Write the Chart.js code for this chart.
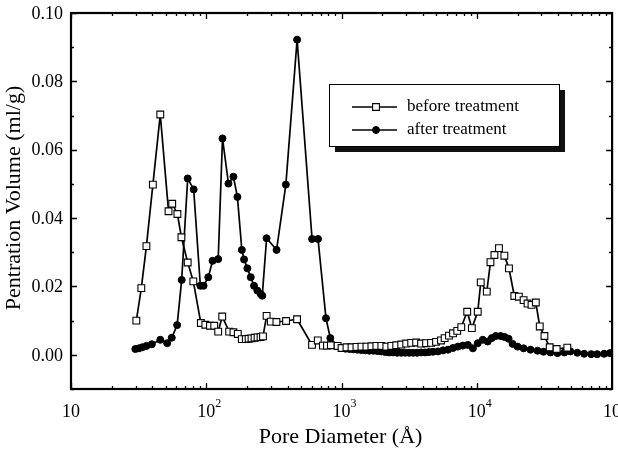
<!DOCTYPE html>
<html>
<head>
<meta charset="utf-8">
<script src="https://cdn.jsdelivr.net/npm/chart.js@4.4.0/dist/chart.umd.min.js"></script>
<style>
  html, body { margin: 0; padding: 0; background: #fff; }
  canvas { display: block; }
</style>
</head>
<body>
<canvas id="chart" width="618" height="451"></canvas>
<script>
// pore diameter (Å) and penetration volume (ml/g), before treatment
const beforeDiameter = [
  30.4, 33.1, 36.1, 40.3, 45.7, 52.6, 56.0, 61.2, 65.5, 72.9, 80.2, 91.2, 98.4, 106.5, 114.5,
  122.5, 131.2, 147.6, 158.8, 171.0, 183.2, 196, 205.5, 216, 227.5, 239.5, 252, 262.5,
  279.3, 300, 330, 389, 469, 605, 667, 728, 780, 834, 935,
  1000, 1088, 1185, 1289, 1403, 1527, 1662, 1809, 1968, 2143, 2332, 2537, 2761, 3006,
  3271, 3559, 3873, 4215, 4588, 4994, 5433,
  5781, 6223, 6668, 7166, 7673, 8490, 9190, 10160, 10690, 11850, 12610, 13490, 14580,
  15980, 17280, 18930, 20460, 22170, 23720, 25370, 27300, 29190, 31620, 34590, 38920, 46660
];
const beforeVolume = [
  0.0100, 0.0195, 0.0318, 0.0498, 0.0703, 0.0420, 0.0442, 0.0412, 0.0344, 0.0270, 0.0215, 0.0093, 0.0088, 0.0085, 0.0085,
  0.0068, 0.0112, 0.0068, 0.0066, 0.0061, 0.0046, 0.0046, 0.0047, 0.0048, 0.0050, 0.0051, 0.0052, 0.0054,
  0.0114, 0.0097, 0.0096, 0.0099, 0.0104, 0.0029, 0.0042, 0.0027, 0.0027, 0.0028, 0.0026,
  0.0020, 0.0022, 0.0022, 0.0023, 0.0024, 0.0024, 0.0025, 0.0026, 0.0026, 0.0024, 0.0026, 0.0028, 0.0030, 0.0033,
  0.0035, 0.0036, 0.0033, 0.0034, 0.0035, 0.0038, 0.0042,
  0.0049, 0.0056, 0.0063, 0.0070, 0.0081, 0.0126, 0.0078, 0.0126, 0.0212, 0.0185, 0.0271, 0.0292, 0.0312,
  0.0290, 0.0253, 0.0172, 0.0170, 0.0160, 0.0150, 0.0146, 0.0153, 0.0083, 0.0055, 0.0022, 0.0017, 0.0021
];

// after treatment
const afterDiameter = [
  29.9, 31.8, 33.6, 36.1, 39.6, 45.7, 51.4, 55.6, 60.9, 65.8, 72.9, 80.7, 90.4, 95.5, 103.5,
  111.3, 122.5, 131.8, 145.9, 158.8, 169.9, 183.2, 190.3, 201.2, 213.2, 225.4, 238.4, 252.3, 259.3,
  279.3, 330.8, 387.5, 469.3, 605.4, 669.9, 767.2, 826.3, 923,
  1000, 1069, 1145, 1225, 1312, 1403, 1500, 1607, 1718, 1841, 1968, 2108, 2254, 2411, 2582,
  2761, 2957, 3162, 3383, 3622, 3873, 4147, 4436, 4745, 5164, 5623, 6119, 6668, 7250, 7890,
  8590, 9354, 10160, 11070, 12050, 12900, 13800, 15010, 16060, 17180, 18390, 20010, 22170,
  24950, 28100, 31120, 35010, 39430, 44390, 49100, 55300, 62200, 70100, 77600, 87400, 96600
];
const afterVolume = [
  0.0017, 0.0019, 0.0022, 0.0026, 0.0031, 0.0044, 0.0034, 0.0050, 0.0087, 0.0219, 0.0516, 0.0484, 0.0202, 0.0202, 0.0227,
  0.0275, 0.0280, 0.0633, 0.0501, 0.0521, 0.0462, 0.0307, 0.0279, 0.0253, 0.0227, 0.0202, 0.0188, 0.0178, 0.0173,
  0.0341, 0.0307, 0.0498, 0.0922, 0.0339, 0.0339, 0.0107, 0.0049, 0.0026,
  0.0020, 0.0018, 0.0017, 0.0016, 0.0015, 0.0014, 0.0013, 0.0012, 0.0012, 0.0011, 0.0010, 0.0008, 0.0007, 0.0007, 0.0006,
  0.0006, 0.0006, 0.0006, 0.0006, 0.0006, 0.0007, 0.0007, 0.0008, 0.0009, 0.0010, 0.0013, 0.0015, 0.0020, 0.0024, 0.0027,
  0.0029, 0.0019, 0.0034, 0.0044, 0.0039, 0.0049, 0.0055, 0.0055, 0.0052, 0.0047, 0.0032, 0.0024, 0.0019,
  0.0015, 0.0012, 0.0009, 0.0007, 0.0005, 0.0007, 0.0010, 0.0006, 0.0003, 0.0002, 0.0002, 0.0003, 0.0005
];

const seriesNames = ['before treatment', 'after treatment'];

// axis ticks
const xTicks = [10, 100, 1000, 10000, 100000];
const xTickExp = ['', '2', '3', '4', '5'];
const yTicks = [0, 0.02, 0.04, 0.06, 0.08, 0.10];
const yTickLabels = ['0.00', '0.02', '0.04', '0.06', '0.08', '0.10'];

const xTitle = 'Pore Diameter (Å)';
const yTitle = 'Pentration Volume (ml/g)';

const FONT = '"Liberation Serif", "Times New Roman", serif';

const toPoints = (xs, ys) => xs.map((x, i) => ({ x: x, y: ys[i] }));

// frame, inward ticks, labels, titles and the boxed legend
const framePlugin = {
  id: 'frame',
  afterDatasetsDraw(chart) {
    const { ctx, chartArea: a, scales: { x, y } } = chart;
    ctx.save();
    ctx.strokeStyle = '#000';
    ctx.fillStyle = '#000';

    ctx.lineWidth = 2.2;
    ctx.strokeRect(a.left, a.top, a.right - a.left, a.bottom - a.top);

    ctx.lineWidth = 1.3;
    ctx.beginPath();
    // y ticks every 0.01, long ones on the labelled values
    for (let k = -1; k <= 10; k++) {
      const py = Math.round(y.getPixelForValue(k / 100)) + 0.5;
      const len = k % 2 === 0 ? 6 : 3;
      ctx.moveTo(a.left, py); ctx.lineTo(a.left + len, py);
      ctx.moveTo(a.right, py); ctx.lineTo(a.right - len, py);
    }
    // x ticks, decades plus 2..9 in between
    for (let e = 1; e <= 4; e++) {
      for (let m = 1; m <= 9; m++) {
        const px = Math.round(x.getPixelForValue(m * Math.pow(10, e))) + 0.5;
        const len = m === 1 ? 6 : 3;
        ctx.moveTo(px, a.bottom); ctx.lineTo(px, a.bottom - len);
        ctx.moveTo(px, a.top); ctx.lineTo(px, a.top + len);
      }
    }
    ctx.stroke();

    // y tick labels
    ctx.font = '18px ' + FONT;
    ctx.textAlign = 'right';
    ctx.textBaseline = 'middle';
    yTicks.forEach((v, i) => {
      ctx.fillText(yTickLabels[i], a.left - 8, y.getPixelForValue(v) + 1);
    });

    // x tick labels as powers of ten
    xTicks.forEach((v, i) => {
      const px = x.getPixelForValue(v);
      ctx.font = '18px ' + FONT;
      ctx.textAlign = 'center';
      ctx.textBaseline = 'middle';
      ctx.fillText('10', px, a.bottom + 23);
      if (xTickExp[i]) {
        const w = ctx.measureText('10').width;
        ctx.font = '12px ' + FONT;
        ctx.textAlign = 'left';
        ctx.fillText(xTickExp[i], px + w / 2, a.bottom + 15);
      }
    });

    // axis titles
    ctx.font = '22px ' + FONT;
    ctx.textAlign = 'center';
    ctx.textBaseline = 'middle';
    ctx.fillText(xTitle, (a.left + a.right) / 2 - 1, a.bottom + 48);
    ctx.save();
    ctx.translate(14, (a.top + a.bottom) / 2 - 3);
    ctx.rotate(-Math.PI / 2);
    ctx.fillText(yTitle, 0, 0);
    ctx.restore();

    // legend box with drop shadow
    const lx = 329, ly = 84, lw = 230, lh = 62;
    ctx.fillStyle = '#111';
    ctx.fillRect(lx + 6, ly + 6, lw, lh);
    ctx.fillStyle = '#fff';
    ctx.fillRect(lx, ly, lw, lh);
    ctx.lineWidth = 1;
    ctx.strokeStyle = '#000';
    ctx.strokeRect(lx + 0.5, ly + 0.5, lw, lh);

    const rows = [ly + 23, ly + 46];
    chart.data.datasets.forEach((ds, i) => {
      const ry = rows[i];
      ctx.strokeStyle = '#000';
      ctx.lineWidth = ds.borderWidth;
      ctx.beginPath();
      ctx.moveTo(352, ry); ctx.lineTo(397, ry);
      ctx.stroke();
      ctx.fillStyle = ds.pointBackgroundColor;
      ctx.lineWidth = ds.pointBorderWidth;
      ctx.beginPath();
      if (ds.pointStyle === 'rect') {
        const s = ds.pointRadius * Math.SQRT1_2;
        ctx.rect(376 - s, ry - s, 2 * s, 2 * s);
      } else {
        ctx.arc(376, ry, ds.pointRadius, 0, Math.PI * 2);
      }
      ctx.fill();
      ctx.stroke();
      ctx.fillStyle = '#000';
      ctx.font = '17px ' + FONT;
      ctx.textAlign = 'left';
      ctx.textBaseline = 'middle';
      ctx.fillText(ds.label, 407, ry);
    });

    ctx.restore();
  }
};

new Chart(document.getElementById('chart'), {
  type: 'scatter',
  data: {
    datasets: [
      {
        label: seriesNames[0],
        data: toPoints(beforeDiameter, beforeVolume),
        showLine: true,
        borderColor: '#000',
        borderWidth: 1.7,
        pointStyle: 'rect',
        pointRadius: 4.8,
        pointBorderWidth: 1.1,
        pointBorderColor: '#000',
        pointBackgroundColor: '#fff'
      },
      {
        label: seriesNames[1],
        data: toPoints(afterDiameter, afterVolume),
        showLine: true,
        borderColor: '#000',
        borderWidth: 1.7,
        pointStyle: 'circle',
        pointRadius: 3.5,
        pointBorderWidth: 1,
        pointBorderColor: '#000',
        pointBackgroundColor: '#000'
      }
    ]
  },
  options: {
    responsive: false,
    animation: false,
    devicePixelRatio: 1,
    layout: { padding: { left: 71, top: 13, right: 2, bottom: 62 } },
    plugins: { legend: { display: false }, tooltip: { enabled: false } },
    scales: {
      x: { type: 'logarithmic', min: 10, max: 100000, display: false },
      y: { type: 'linear', min: -0.01, max: 0.10, display: false }
    }
  },
  plugins: [framePlugin]
});
</script>
</body>
</html>
